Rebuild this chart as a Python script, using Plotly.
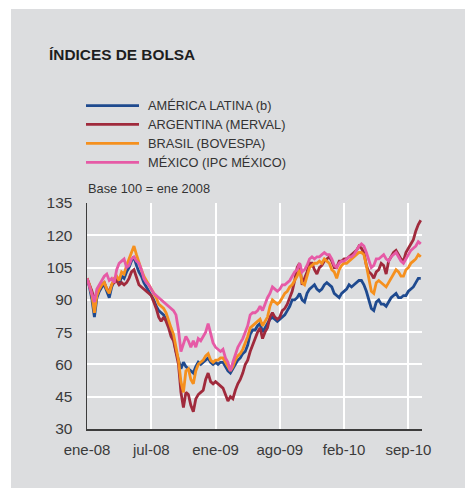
import plotly.graph_objects as go

# ---------------- data (weekly readings, base 100 = ene 2008) ----------------
tick_positions = [0, 26, 52, 78, 104, 130]
tick_labels = ["ene-08", "jul-08", "ene-09", "ago-09", "feb-10", "sep-10"]
y_ticks = [30, 45, 60, 75, 90, 105, 120, 135]

america_latina = [
    100, 96, 90, 82, 91, 94, 96, 97, 94, 91,
    96, 99, 100, 97, 101, 100, 103, 105, 108, 110,
    106, 103, 101, 98, 96, 94, 92, 90, 87, 85,
    84, 83, 81, 78, 75, 72, 66, 62, 58, 61,
    59, 58, 57, 56, 59, 61, 60, 61, 62, 63,
    61, 60, 61, 60, 61, 61, 59, 57, 56, 58,
    60, 62, 63, 65, 66, 69, 74, 76, 76, 78,
    79, 75, 77, 79, 81, 82, 81, 80, 81, 82,
    83, 85, 87, 90, 90, 91, 93, 90, 89, 93,
    95, 96, 97, 95, 94, 95, 97, 98, 97, 96,
    93, 92, 91, 93, 94, 95, 97, 96, 97, 98,
    99, 99, 97, 94, 90, 86, 85, 89, 90, 88,
    88, 87, 89, 91, 92, 93, 91, 91, 92, 92,
    94, 95, 96, 98, 100, 100,
]

argentina = [
    100, 97, 94, 90, 93, 95, 97, 98, 95, 94,
    97, 98, 99, 97, 98, 97, 98, 100, 103, 104,
    100, 97, 96, 95, 94, 93, 92, 89, 86, 82,
    80, 82, 80, 77, 73, 71, 66, 60, 47, 40,
    47, 46, 41, 38, 44, 46, 47, 48, 53, 56,
    52, 51, 52, 51, 50, 49, 46, 43, 45, 44,
    48, 51, 53, 56, 60, 62, 66, 69, 72, 75,
    77, 72, 75, 77, 82, 84, 82, 81, 82, 85,
    86, 88, 91, 94, 99, 105, 107, 97, 100, 103,
    107, 107, 104, 102, 105, 106, 108, 109, 110, 108,
    105, 105, 108, 108, 109, 109, 110, 111, 112, 113,
    115, 114, 112, 106, 103, 102, 100, 103, 104, 107,
    106, 102, 108, 110, 112, 113, 111, 109, 108, 112,
    114, 116, 118, 122, 125, 127,
]

brasil = [
    100, 97, 92, 84, 92, 95, 97, 98, 95, 93,
    97, 100, 101, 99, 103, 102, 106, 109, 112, 115,
    111, 107, 104, 101, 99, 97, 95, 93, 91, 88,
    87, 86, 84, 80, 77, 74, 68, 62, 52, 47,
    57, 58, 53, 51, 57, 60, 61, 62, 64, 65,
    62, 61, 62, 62, 63, 63, 61, 59, 57, 59,
    62, 64, 65, 67, 70, 73, 77, 78, 79, 80,
    81, 78, 80, 82, 87, 90, 89, 88, 89, 91,
    93, 94, 96, 97, 99, 101, 104, 98, 97, 101,
    105, 106, 107, 107, 108, 107, 109, 108, 107, 104,
    103, 100, 104, 106, 107, 107, 108, 109, 110, 111,
    112, 112, 111, 106, 100, 94, 93, 98, 99, 98,
    97, 96, 98, 100, 102, 104, 103, 101, 101, 104,
    105, 107, 108, 109, 111, 110,
]

mexico = [
    100, 96, 93, 89, 95, 97, 99, 101, 102, 99,
    100, 98, 104, 107, 108, 109, 105, 106, 109, 110,
    108, 107, 104, 100, 98, 97, 95, 93, 92, 91,
    90, 89, 88, 87, 86, 85, 83, 76, 66, 70,
    73, 71, 68, 71, 68, 72, 71, 73, 75, 79,
    75, 70, 68, 67, 66, 67, 63, 61, 57, 61,
    65, 68, 70, 72, 75, 78, 83, 84, 84, 85,
    87, 85, 88, 91, 93, 96, 95, 94, 95, 97,
    97, 98, 99, 101, 103, 104, 107, 103, 104, 106,
    109, 110, 109, 110, 110, 111, 112, 111, 111, 109,
    106, 105, 107, 108, 108, 109, 110, 110, 111, 113,
    115, 116, 115, 112, 108, 105, 106, 109, 109, 110,
    111, 109, 108, 110, 111, 112, 110, 108, 107, 109,
    111, 113, 114, 115, 117, 116,
]

names = ["AMÉRICA LATINA (b)", "ARGENTINA (MERVAL)", "BRASIL (BOVESPA)", "MÉXICO (IPC MÉXICO)"]
values = [america_latina, argentina, brasil, mexico]
colors = ["#1f4a8f", "#a02a3c", "#f5901e", "#e65aa6"]
draw_order = [0, 1, 2, 3]

# ---------------- geometry ----------------
W, H = 465, 488
ML, MR, MT, MB = 87, 43, 203, 59
PW, PH = W - ML - MR, H - MT - MB
GRAY = "#dcdddf"
FONT = "Liberation Sans, Arial, sans-serif"


def px_x(px):
    return (px - ML) / PW


def px_y(py):
    return (H - MB - py) / PH


fig = go.Figure()
x_idx = list(range(len(america_latina)))
for i in draw_order:
    fig.add_trace(go.Scatter(
        x=x_idx, y=values[i], mode="lines", name=names[i],
        line=dict(color=colors[i], width=2.8), showlegend=False,
        hoverinfo="skip",
    ))

shapes = [dict(type="rect", xref="paper", yref="paper",
               x0=px_x(11), x1=px_x(W + 5), y0=px_y(H + 5), y1=px_y(9),
               fillcolor=GRAY, line=dict(width=0), layer="below")]
annotations = [dict(text="<b>ÍNDICES DE BOLSA</b>", xref="paper", yref="paper",
                    x=px_x(47), y=px_y(54), xanchor="left", yanchor="middle",
                    showarrow=False, font=dict(family=FONT, size=15.4, color="#1e1e1e"))]

legend_rows = [105.7, 124.3, 143.3, 162.3]
for i, yrow in enumerate(legend_rows):
    shapes.append(dict(type="line", xref="paper", yref="paper",
                       x0=px_x(86), x1=px_x(139), y0=px_y(yrow), y1=px_y(yrow),
                       line=dict(color=colors[i], width=2.8)))
    annotations.append(dict(text=names[i], xref="paper", yref="paper",
                            x=px_x(146), y=px_y(yrow), xanchor="left", yanchor="middle",
                            showarrow=False, font=dict(family=FONT, size=12.8, color="#333333")))

annotations.append(dict(text="Base 100 = ene 2008", xref="paper", yref="paper",
                        x=px_x(86), y=px_y(189), xanchor="left", yanchor="middle",
                        showarrow=False, font=dict(family=FONT, size=12.8, color="#333333")))

fig.update_layout(
    width=W, height=H, autosize=False,
    margin=dict(l=ML, r=MR, t=MT, b=MB, pad=0),
    paper_bgcolor="white", plot_bgcolor=GRAY,
    showlegend=False,
    shapes=shapes, annotations=annotations,
    font=dict(family=FONT, color="#3a3a3a"),
)
fig.update_xaxes(
    range=[0, 135.5], tickmode="array", tickvals=tick_positions, ticktext=tick_labels,
    showgrid=True, gridcolor="white", gridwidth=2, zeroline=False,
    showline=True, linecolor="#3c3c3c", linewidth=1.5, ticks="",
    tickfont=dict(family=FONT, size=15, color="#3a3a3a"), ticklabelstandoff=6,
)
fig.update_yaxes(
    range=[30, 135], tickmode="array", tickvals=y_ticks,
    showgrid=True, gridcolor="white", gridwidth=2, zeroline=False,
    showline=True, linecolor="#3c3c3c", linewidth=1.5, ticks="",
    tickfont=dict(family=FONT, size=15.5, color="#3a3a3a"), ticklabelstandoff=10,
)

fig.write_html(
    "out.html",
    config={"displayModeBar": False, "staticPlot": True},
    post_script="document.body.style.margin='0';document.body.style.padding='0';",
)
